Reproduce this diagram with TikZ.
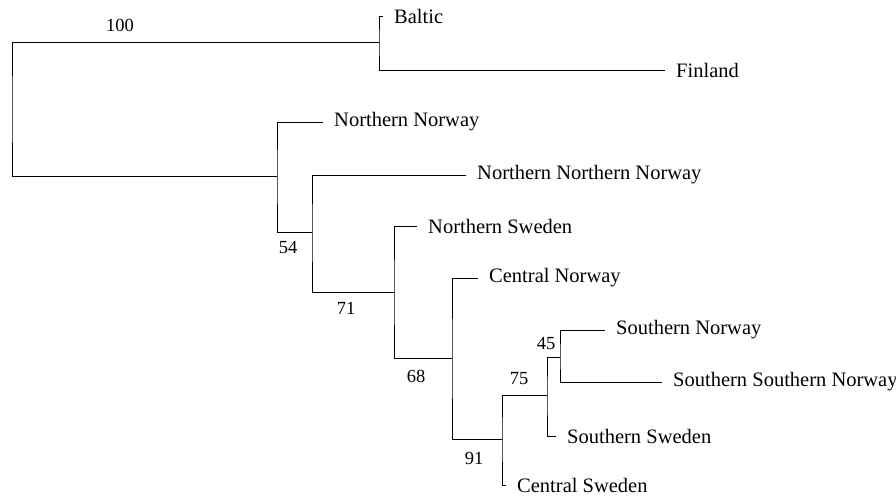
\documentclass[tikz,border=0pt]{standalone}
\usepackage{fontspec}
\setmainfont{Liberation Serif}
\usetikzlibrary{positioning}

\tikzset{
  branch/.style={draw, line width=0.9pt},
  leaf/.style={anchor=west, inner xsep=11pt, inner ysep=0pt, yshift=-1pt, font=\fontsize{20.5}{23}\selectfont},
  boot/.style={inner sep=0pt, font=\fontsize{18.5}{21}\selectfont}
}

\begin{document}
\begin{tikzpicture}[x=1pt, y=-1pt]
  \useasboundingbox (0,0) rectangle (896,497);

  % internal nodes of the tree
  \coordinate (root) at (12,109);
  \coordinate (nBF) at (379,42);
  \coordinate (nA) at (277,176);
  \coordinate (nB) at (312,232);
  \coordinate (nC) at (394,292);
  \coordinate (nD) at (452,358);
  \coordinate (nE) at (502,439);
  \coordinate (nF) at (547,395);
  \coordinate (nG) at (560,357);

  % leaves
  \node[leaf] (baltic) at (383,15) {Baltic};
  \node[leaf] (finland) at (665,69) {Finland};
  \node[leaf] (nno) at (323,121) {Northern Norway};
  \node[leaf] (nnno) at (466,174) {Northern Northern Norway};
  \node[leaf] (nsw) at (417,225) {Northern Sweden};
  \node[leaf] (cno) at (478,277) {Central Norway};
  \node[leaf] (sno) at (605,329) {Southern Norway};
  \node[leaf] (ssno) at (662,381) {Southern Southern Norway};
  \node[leaf] (ssw) at (556,435) {Southern Sweden};
  \node[leaf, yshift=2pt] (csw) at (506,486) {Central Sweden};

  % branches
  \draw[branch] (nBF) -| (root) |- (nA);
  \draw[branch] (baltic.west) -| (nBF) |- (finland.west);
  \draw[branch] (nno.west) -| (nA) |- (nB);
  \draw[branch] (nnno.west) -| (nB) |- (nC);
  \draw[branch] (nsw.west) -| (nC) |- (nD);
  \draw[branch] (cno.west) -| (nD) |- (nE);
  \draw[branch] (nF) -| (nE) |- (csw.west);
  \draw[branch] (nG) -| (nF) |- (ssw.west);
  \draw[branch] (sno.west) -| (nG) |- (ssno.west);

  % bootstrap values
  \node[boot] (b100) at (120,25) {100};
  \node[boot] (b54) at (288,248) {54};
  \node[boot] (b71) at (346,308) {71};
  \node[boot] (b68) at (416,376) {68};
  \node[boot] (b91) at (474,458) {91};
  \node[boot] (b75) at (519,379) {75};
  \node[boot] (b45) at (546,343) {45};
\end{tikzpicture}
\end{document}
